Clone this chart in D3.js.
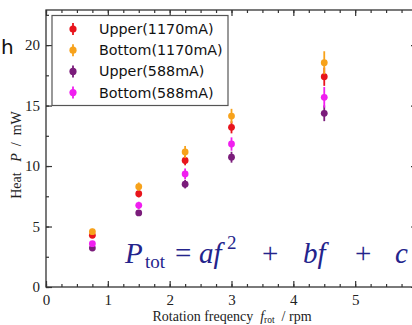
<!DOCTYPE html>
<html><head><meta charset="utf-8">
<script src="https://cdn.jsdelivr.net/npm/d3@7"></script>
<style>body{margin:0;background:#fff}svg{display:block}text{white-space:pre}</style>
</head><body>
<svg id="c" width="412" height="325"></svg>
<script>
const freqs = [0.75, 1.5, 2.25, 3.0, 4.5];
const seriesNames = ["Upper(1170mA)", "Bottom(1170mA)", "Upper(588mA)", "Bottom(588mA)"];
const upper1170 = [4.27, 7.71, 10.46, 13.2, 17.38];
const bottom1170 = [4.57, 8.29, 11.16, 14.13, 18.54];
const upper588 = [3.22, 6.12, 8.5, 10.73, 14.36];
const bottom588 = [3.58, 6.75, 9.35, 11.82, 15.68];
const errUpper1170 = [0.2, 0.3, 0.4, 0.5, 0.75];
const errBottom1170 = [0.25, 0.35, 0.5, 0.6, 0.95];
const errUpper588 = [0.15, 0.25, 0.35, 0.45, 0.65];
const errBottom588 = [0.2, 0.3, 0.45, 0.55, 0.85];
const colors = ["#e8141c", "#f7a21b", "#7b1c7b", "#f01ef0"];
const xTicks = [0, 1, 2, 3, 4, 5, 6];
const yTicks = [0, 5, 10, 15, 20];

const values = [upper1170, bottom1170, upper588, bottom588];
const errs = [errUpper1170, errBottom1170, errUpper588, errBottom588];

const svg = d3.select("#c");
const L = 46, R = 417, T = 10, B = 287;
const x = d3.scaleLinear().domain([0, 6]).range([L, R]);
const y = d3.scaleLinear().domain([0, 22.9]).range([B, T]);

const axCol = "#333";
const serif = "'Liberation Serif', 'Times New Roman', serif";
const g = svg.append("g");

g.append("rect").attr("x", L).attr("y", T).attr("width", R - L).attr("height", B - T)
  .attr("fill", "none").attr("stroke", axCol).attr("stroke-width", 1.3);

const xMinor = d3.range(0, 6.01, 0.25);
const yMinor = d3.range(0, 22.9, 2.5);

function styleAxis(sel) {
  sel.attr("font-family", null);
  sel.select(".domain").remove();
  sel.selectAll("line").attr("stroke", axCol).attr("stroke-width", 1.2);
}
function styleText(sel) {
  sel.selectAll("text").style("font-family", serif).style("font-size", "15px").attr("fill", "#222");
}
svg.append("g").attr("transform", `translate(0,${B})`)
  .call(d3.axisBottom(x).tickValues(xMinor).tickSize(-3).tickFormat(""))
  .call(styleAxis);
svg.append("g").attr("transform", `translate(0,${B})`)
  .call(d3.axisBottom(x).tickValues(xTicks).tickSize(-6).tickPadding(7).tickFormat(d3.format("d")))
  .call(styleAxis).call(styleText);
svg.append("g").attr("transform", `translate(0,${T})`)
  .call(d3.axisTop(x).tickValues(xMinor).tickSize(-3).tickFormat(""))
  .call(styleAxis);
svg.append("g").attr("transform", `translate(0,${T})`)
  .call(d3.axisTop(x).tickValues(xTicks).tickSize(-6).tickFormat(""))
  .call(styleAxis);
svg.append("g").attr("transform", `translate(${L},0)`)
  .call(d3.axisLeft(y).tickValues(yMinor).tickSize(-3).tickFormat(""))
  .call(styleAxis);
svg.append("g").attr("transform", `translate(${L},0)`)
  .call(d3.axisLeft(y).tickValues(yTicks).tickSize(-6).tickPadding(6).tickFormat(d3.format("d")))
  .call(styleAxis).call(styleText);
svg.append("g").attr("transform", `translate(${R},0)`)
  .call(d3.axisRight(y).tickValues(yMinor).tickSize(-3).tickFormat(""))
  .call(styleAxis);
svg.append("g").attr("transform", `translate(${R},0)`)
  .call(d3.axisRight(y).tickValues(yTicks).tickSize(-6).tickFormat(""))
  .call(styleAxis);

values.forEach((vals, si) => {
  const gs = svg.append("g");
  const pts = freqs.map((f, i) => ({f, v: vals[i], e: errs[si][i]}));
  gs.selectAll("line").data(pts).join("line")
    .attr("x1", d => x(d.f)).attr("x2", d => x(d.f))
    .attr("y1", d => y(d.v - d.e)).attr("y2", d => y(d.v + d.e))
    .attr("stroke", colors[si]).attr("stroke-width", 1.8);
  gs.selectAll("circle").data(pts).join("circle")
    .attr("cx", d => x(d.f)).attr("cy", d => y(d.v)).attr("r", 3.4)
    .attr("fill", colors[si]);
});

const lg = svg.append("g");
lg.append("rect").attr("x", 52).attr("y", 15.5).attr("width", 176).attr("height", 90)
  .attr("fill", "#fff").attr("stroke", "#555").attr("stroke-width", 1.2);
seriesNames.forEach((n, i) => {
  const yy = 29 + i * 21.2;
  lg.append("line").attr("x1", 73).attr("x2", 73).attr("y1", yy - 6).attr("y2", yy + 6)
    .attr("stroke", colors[i]).attr("stroke-width", 1.8);
  lg.append("circle").attr("cx", 73).attr("cy", yy).attr("r", 3.6).attr("fill", colors[i]);
  lg.append("text").attr("x", 99).attr("y", yy + 5).text(n)
    .style("font-family", "'DejaVu Sans', sans-serif").style("font-size", "14.3px").attr("fill", "#111");
});

svg.append("text").attr("transform", "translate(21,155) rotate(-90)")
  .attr("text-anchor", "middle").style("font-family", serif)
  .style("font-size", "14px").attr("fill", "#222")
  .call(t => {
    t.append("tspan").text("Heat   ");
    t.append("tspan").attr("font-style", "italic").text("P");
    t.append("tspan").text("  /  mW");
  });

svg.append("text").attr("x", 232).attr("y", 320.5)
  .attr("text-anchor", "middle").style("font-family", serif)
  .style("font-size", "14px").attr("fill", "#222")
  .call(t => {
    t.append("tspan").text("Rotation freqency  ");
    t.append("tspan").attr("font-style", "italic").text("f");
    t.append("tspan").style("font-size", "9.5px").attr("dy", 2).text("rot");
    t.append("tspan").attr("dy", -2).text("  / rpm");
  });

svg.append("text").attr("x", 1).attr("y", 54).text("h")
  .style("font-family", "'DejaVu Sans', sans-serif").style("font-size", "20px").attr("fill", "#111");

const fc = "#24248c";
const fm = svg.append("g").style("font-family", serif).attr("fill", fc);
function ft(xp, yp, s, size, it) {
  fm.append("text").attr("x", xp).attr("y", yp).text(s).style("font-size", size + "px")
    .attr("font-style", it ? "italic" : "normal");
}
ft(125, 263, "P", 29, true);
ft(145, 268, "tot", 19, false);
ft(175, 263, "=", 29, false);
ft(199, 263, "af", 29, true);
ft(227, 249, "2", 19, false);
ft(262, 263, "+", 29, false);
ft(303, 263, "bf", 29, true);
ft(355, 263, "+", 29, false);
ft(395, 263, "c", 29, true);
</script>
</body></html>
